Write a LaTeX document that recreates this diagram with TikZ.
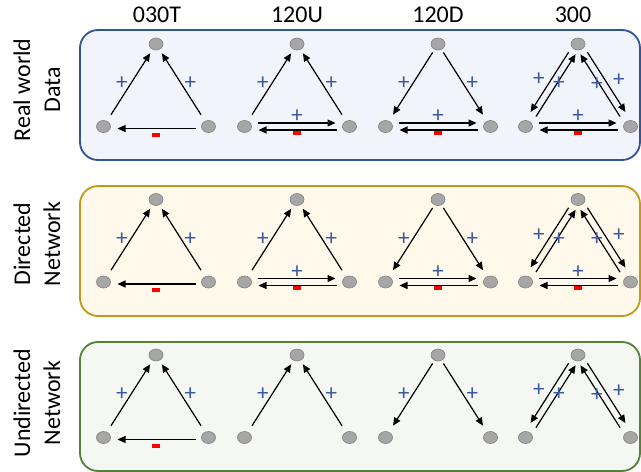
\documentclass[tikz,border=0pt]{standalone}
\usepackage{fontspec}
\setmainfont{Carlito}
\usetikzlibrary{arrows.meta,calc,shapes.geometric}
\definecolor{blueB}{RGB}{47,85,151}
\definecolor{blueF}{RGB}{242,244,251}
\definecolor{goldB}{RGB}{196,152,24}
\definecolor{goldF}{RGB}{255,249,236}
\definecolor{greenB}{RGB}{84,130,53}
\definecolor{greenF}{RGB}{245,247,242}
\definecolor{plusC}{RGB}{59,89,160}
\definecolor{nodeF}{RGB}{166,166,166}
\definecolor{nodeD}{RGB}{128,128,128}
% edge from #1 to #2, perpendicular offset #3, shorten start #4, shorten end #5
\newcommand\oedge[5]{\draw[edgeln, shorten <=#4, shorten >=#5] ($(#1)!#3!90:(#2)$) -- ($(#2)!#3!-90:(#1)$);}
\newcommand\plusL[3]{\node[pl] at ($(#1)!0.5!(#2)+#3$) {+};}
\newcommand\minusL[3]{\node[mn] at ($(#1)!0.5!(#2)+#3$) {};}
\newcommand\upPair[2]{%
  \oedge{l#1#2}{t#1#2}{0pt}{14pt}{11pt}
  \oedge{r#1#2}{t#1#2}{0pt}{14pt}{11pt}
  \plusL{l#1#2}{t#1#2}{(-8,-2)}
  \plusL{r#1#2}{t#1#2}{(8,-2)}}
\newcommand\downPair[2]{%
  \oedge{t#1#2}{l#1#2}{0pt}{10pt}{14pt}
  \oedge{t#1#2}{r#1#2}{0pt}{10pt}{14pt}
  \plusL{l#1#2}{t#1#2}{(-8,-2)}
  \plusL{r#1#2}{t#1#2}{(8,-2)}}
\newcommand\dblPair[2]{%
  \oedge{t#1#2}{l#1#2}{-3.5pt}{12pt}{15pt}
  \oedge{l#1#2}{t#1#2}{-3.5pt}{14pt}{10pt}
  \oedge{t#1#2}{r#1#2}{3.5pt}{12pt}{15pt}
  \oedge{r#1#2}{t#1#2}{3.5pt}{14pt}{10pt}
  \plusL{l#1#2}{t#1#2}{(-13,-6)}
  \plusL{l#1#2}{t#1#2}{(7,-2)}
  \plusL{r#1#2}{t#1#2}{(-7.5,-1.5)}
  \plusL{r#1#2}{t#1#2}{(14.5,-5.5)}}
\newcommand\bottomPair[2]{%
  \oedge{l#1#2}{r#1#2}{3.5pt}{13pt}{14pt}
  \oedge{r#1#2}{l#1#2}{3.5pt}{13pt}{14pt}
  \plusL{l#1#2}{r#1#2}{(0,-10)}
  \minusL{l#1#2}{r#1#2}{(0,6)}}
\newcommand\colA[1]{%
  \upPair{#1}{1}
  \oedge{r#11}{l#11}{2pt}{13pt}{14pt}
  \minusL{l#11}{r#11}{(0,8)}}
\begin{document}
\begin{tikzpicture}[x=1pt,y=-1pt,
  vert/.style={ellipse, minimum width=14pt, minimum height=12pt, inner sep=0pt,
    fill=nodeF, draw=nodeD, line width=0.6pt},
  edgeln/.style={line width=1.2pt, -{Triangle[length=8pt,width=7pt]}},
  lab/.style={font=\fontsize{24}{30}\selectfont, inner sep=0pt},
  pl/.style={text=plusC, font=\fontsize{23}{23}\selectfont, inner sep=0pt},
  mn/.style={fill=red, minimum width=8pt, minimum height=4pt, inner sep=0pt},
  panel/.style={rounded corners=18pt, line width=1.8pt}]
\useasboundingbox (0,0) rectangle (641,472);
% panels
\draw[panel, draw=blueB, fill=blueF] (80,30) rectangle (640,160);
\draw[panel, draw=goldB, fill=goldF] (80,186) rectangle (640,316);
\draw[panel, draw=greenB, fill=greenF] (80,342) rectangle (640,471);
% headers
\node[lab, anchor=base] (h1) at (157,22) {030T};
\node[lab, anchor=base] (h2) at (297,22) {120U};
\node[lab, anchor=base] (h3) at (438,22) {120D};
\node[lab, anchor=base] (h4) at (573,22) {300};
% row labels
\node[lab, rotate=90, align=center] (rl1) at (37,90) {Real world\\Data};
\node[lab, rotate=90, align=center] (rl2) at (37,244) {Directed\\Network};
\node[lab, rotate=90, align=center] (rl3) at (37,403) {Undirected\\Network};
% vertices
\foreach \rw/\yy in {1/44, 2/199.5, 3/355} {
  \foreach \cl/\xx in {1/156, 2/297, 3/438, 4/578} {
    \node[vert] (t\rw\cl) at (\xx,\yy) {};
    \node[vert] (l\rw\cl) at (\xx-52.5,\yy+82.5) {};
    \node[vert] (r\rw\cl) at (\xx+52.5,\yy+82.5) {};
  }
}
% row 1 and 2
\colA{1}
\upPair{1}{2}\bottomPair{1}{2}
\downPair{1}{3}\bottomPair{1}{3}
\dblPair{1}{4}\bottomPair{1}{4}
\colA{2}
\upPair{2}{2}\bottomPair{2}{2}
\downPair{2}{3}\bottomPair{2}{3}
\dblPair{2}{4}\bottomPair{2}{4}
% row 3
\colA{3}
\upPair{3}{2}
\downPair{3}{3}
\dblPair{3}{4}
\end{tikzpicture}
\end{document}
